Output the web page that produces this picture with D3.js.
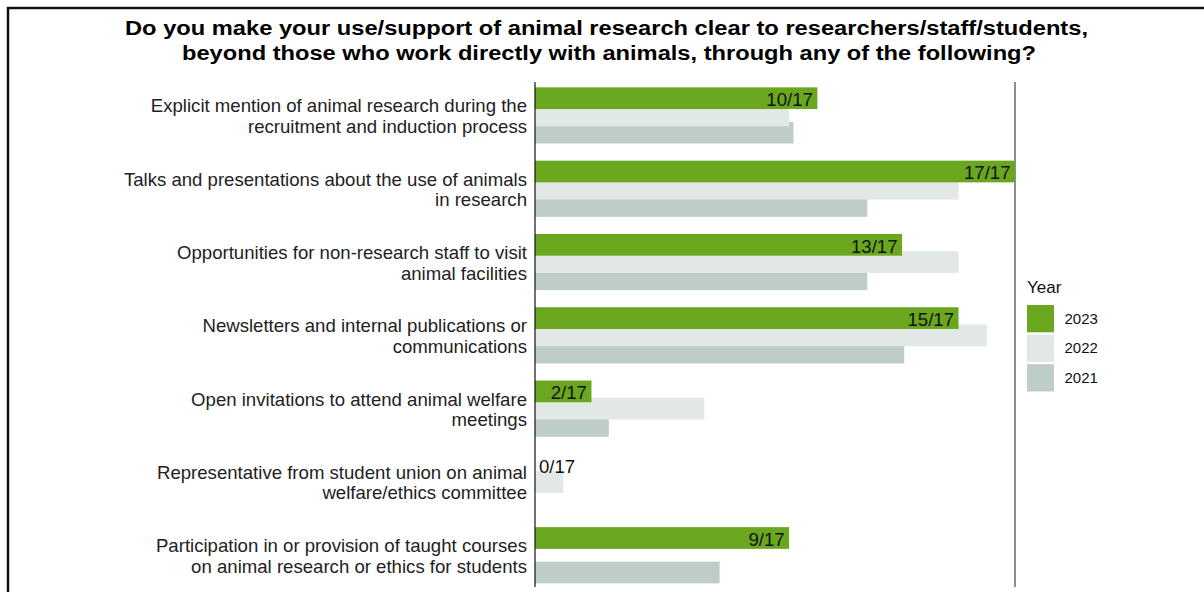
<!DOCTYPE html>
<html>
<head>
<meta charset="utf-8">
<script src="https://cdn.jsdelivr.net/npm/d3@7"></script>
<style>
  html, body { margin: 0; padding: 0; background: #fff; }
  svg { display: block; font-family: "Liberation Sans", Arial, sans-serif; }
</style>
</head>
<body>
<svg id="chart" width="1204" height="592"></svg>
<script>
const titleLines = [
  "Do you make your use/support of animal research clear to researchers/staff/students,",
  "beyond those who work directly with animals, through any of the following?"
];
const categories = [
  ["Explicit mention of animal research during the", "recruitment and induction process"],
  ["Talks and presentations about the use of animals", "in research"],
  ["Opportunities for non-research staff to visit", "animal facilities"],
  ["Newsletters and internal publications or", "communications"],
  ["Open invitations to attend animal welfare", "meetings"],
  ["Representative from student union on animal", "welfare/ethics committee"],
  ["Participation in or provision of taught courses", "on animal research or ethics for students"]
];
const years = ["2023", "2022", "2021"];
const respondents = [17, 17, 13];
const count2023 = [10, 17, 13, 15, 2, 0, 9];
const count2022 = [9, 15, 15, 16, 6, 1, null];
const count2021 = [7, 9, 9, 10, 2, null, 5];
const colors = ["#6ba71e", "#e2e8e5", "#bfcdc9"];

const svg = d3.select("#chart");
const W = 1204, H = 592;

// frame
svg.append("path").attr("d", `M8,${H} V8 H${W}`).attr("fill", "none")
  .attr("stroke", "#111").attr("stroke-width", 2.5);

// title
const titleSpec = [{cx: 606.5, len: 963}, {cx: 609, len: 854}];
const title = svg.append("text").attr("text-anchor", "middle")
  .attr("font-weight", "bold").attr("font-size", 20).attr("fill", "#000");
titleLines.forEach((t, i) => title.append("tspan")
  .attr("x", titleSpec[i].cx).attr("y", 35 + i * 25)
  .attr("textLength", titleSpec[i].len).attr("lengthAdjust", "spacingAndGlyphs")
  .text(t));

const seriesCounts = [count2023, count2022, count2021];
const rows = categories.map((c, i) => ({
  idx: i,
  label: c,
  vals: years.map((y, k) => ({
    year: y, k,
    count: seriesCounts[k][i],
    total: respondents[k],
    v: seriesCounts[k][i] == null ? null : seriesCounts[k][i] / respondents[k]
  }))
}));

const x = d3.scaleLinear().domain([0, 1]).range([535, 1015]);
const y = d3.scaleBand().domain(d3.range(categories.length)).range([78.8, 78.8 + 7 * 73.3])
  .paddingInner(0.233).paddingOuter(0.1165);
const yIn = d3.scaleBand().domain(years).range([0, y.bandwidth() * 0.92]);
const barH = yIn.step() * 1.26;

// right reference line
svg.append("line").attr("x1", x(1)).attr("x2", x(1)).attr("y1", 82).attr("y2", 587)
  .attr("stroke", "#444").attr("stroke-width", 1.2);

const g = svg.selectAll("g.row").data(rows).join("g").attr("class", "row")
  .attr("transform", d => `translate(0,${y(d.idx)})`);

// bars: draw 2021 first, 2023 last
g.selectAll("rect").data(d => d.vals.filter(v => v.v != null).slice().reverse()).join("rect")
  .attr("x", x(0))
  .attr("y", d => yIn(d.year))
  .attr("width", d => x(d.v) - x(0))
  .attr("height", barH)
  .attr("fill", d => colors[d.k]);

// value labels for 2023
g.append("text")
  .datum(d => d.vals[0])
  .attr("x", d => d.count === 0 ? x(0) + 4 : x(d.v) - 4.5)
  .attr("y", d => yIn(d.year) + barH - 3)
  .attr("text-anchor", d => d.count === 0 ? "start" : "end")
  .attr("font-size", 18.6).attr("fill", "#111")
  .text(d => `${d.count}/${d.total}`);

// category labels
g.append("text").attr("text-anchor", "end").attr("font-size", 18.6).attr("fill", "#222")
  .each(function(d) {
    const t = d3.select(this);
    const c = y.bandwidth() / 2;
    d.label.forEach((line, i) => t.append("tspan").attr("x", 527).attr("y", c - 3 + i * 20.5).text(line));
  });

// y axis line
const yAxis = d3.axisLeft(y).tickSize(0).tickFormat("");
svg.append("g").attr("transform", `translate(${x(0)},0)`).call(yAxis)
  .call(s => s.select(".domain").attr("d", `M0,82 V587`).attr("stroke", "#111").attr("stroke-width", 1.2));

// legend
const lg = svg.append("g").attr("transform", "translate(1027,0)");
lg.append("text").attr("x", 0).attr("y", 293).attr("font-size", 17).attr("fill", "#111").text("Year");
years.forEach((yr, i) => {
  lg.append("rect").attr("x", 0).attr("y", 305 + i * 29.6).attr("width", 27).attr("height", 27.3)
    .attr("fill", colors[i]);
  lg.append("text").attr("x", 37.5).attr("y", 305 + i * 29.6 + 13.6).attr("dy", "0.35em")
    .attr("font-size", 15).attr("fill", "#111").text(yr);
});
</script>
</body>
</html>
